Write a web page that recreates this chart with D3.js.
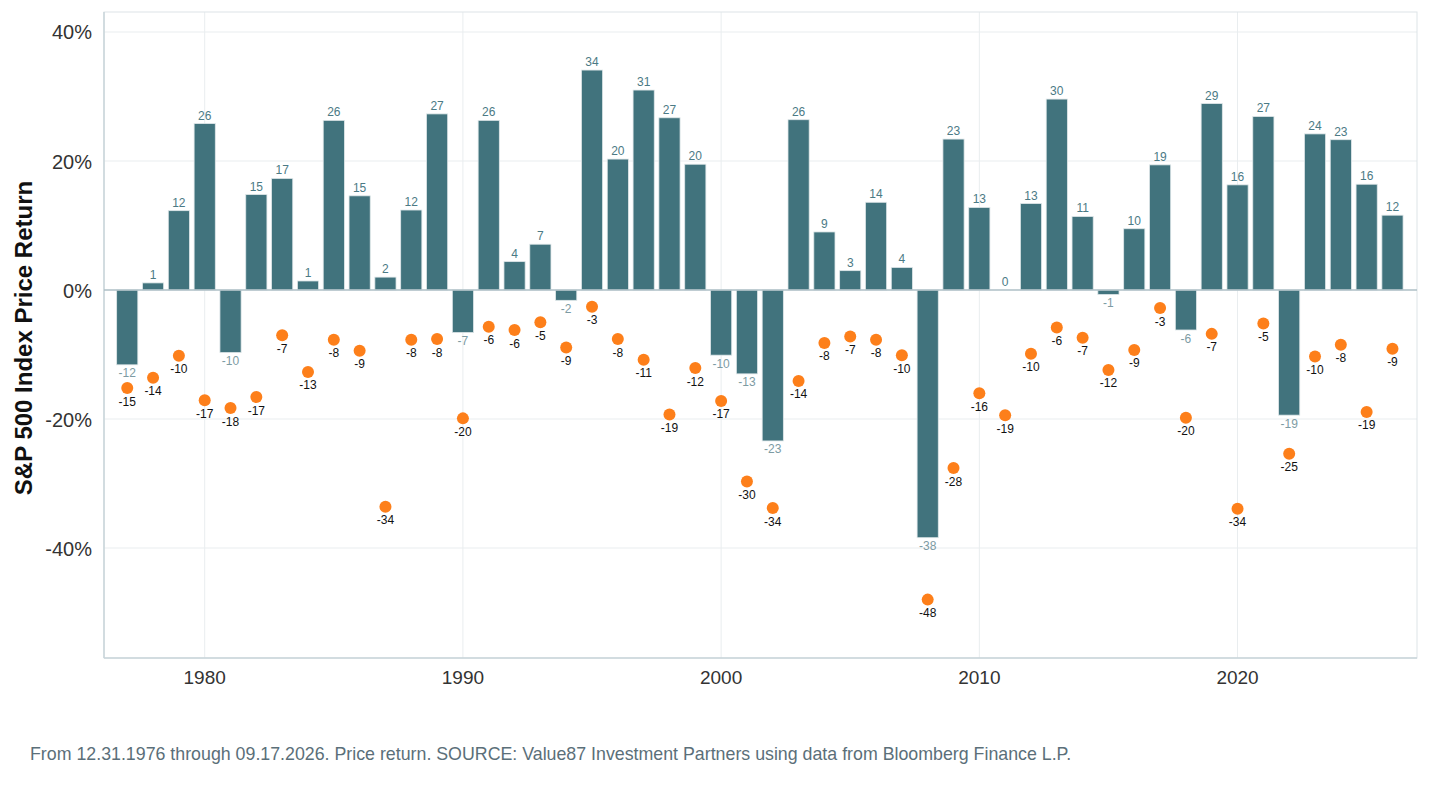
<!DOCTYPE html>
<html>
<head>
<meta charset="utf-8">
<script src="https://cdn.jsdelivr.net/npm/d3@7"></script>
<style>
  body { margin: 0; background: #fff; }
  svg { font-family: "Liberation Sans", Arial, sans-serif; }
</style>
</head>
<body>
<div id="chart"></div>
<script>
// years 1977 -> 2026
const years = d3.range(1977, 2027);

// calendar year price return (%)
const annualReturn = [
  -11.6, 1.1, 12.3, 25.8, -9.7, 14.8, 17.3, 1.4, 26.3, 14.6,
  2.0, 12.4, 27.3, -6.6, 26.3, 4.4, 7.1, -1.6, 34.1, 20.3,
  31.0, 26.7, 19.5, -10.1, -13.0, -23.4, 26.4, 9.0, 3.0, 13.6,
  3.5, -38.4, 23.4, 12.8, 0.0, 13.4, 29.6, 11.4, -0.7, 9.5,
  19.4, -6.2, 28.9, 16.3, 26.9, -19.4, 24.2, 23.3, 16.4, 11.6
];

// intra-year decline (%)
const intraYearDrop = [
  -15.2, -13.6, -10.2, -17.1, -18.3, -16.6, -7.0, -12.7, -7.7, -9.4,
  -33.6, -7.7, -7.6, -19.9, -5.7, -6.2, -5.0, -8.9, -2.6, -7.6,
  -10.8, -19.3, -12.1, -17.2, -29.7, -33.8, -14.1, -8.2, -7.2, -7.7,
  -10.1, -48.0, -27.6, -16.0, -19.4, -9.9, -5.8, -7.4, -12.4, -9.3,
  -2.8, -19.8, -6.8, -33.9, -5.2, -25.4, -10.3, -8.5, -18.9, -9.1
];

const yTicks = [-40, -20, 0, 20, 40];
const xTicks = [1980, 1990, 2000, 2010, 2020];

const yTitle = "S&P 500 Index Price Return";
const footnote = "From 12.31.1976 through 09.17.2026. Price return. SOURCE: Value87 Investment Partners using data from Bloomberg Finance L.P.";

const data = years.map((y, i) => ({ year: y, ret: annualReturn[i], drop: intraYearDrop[i] }));

const width = 1430, height = 804;
const mLeft = 104, mRight = 1417, mTop = 12, mBottom = 658;

const x = d3.scaleLinear().domain([1976.1, 2026.95]).range([mLeft, mRight]);
const y = d3.scaleLinear().domain([-57.05, 43.1]).range([mBottom, mTop]);

const svg = d3.select("#chart").append("svg")
  .attr("width", width)
  .attr("height", height);

// grille
svg.append("g")
  .selectAll("line")
  .data(yTicks.filter(d => d !== 0))
  .join("line")
  .attr("x1", mLeft).attr("x2", mRight)
  .attr("y1", d => y(d)).attr("y2", d => y(d))
  .attr("stroke", "#e9edef").attr("stroke-width", 1);

svg.append("g")
  .selectAll("line")
  .data(xTicks)
  .join("line")
  .attr("x1", d => x(d)).attr("x2", d => x(d))
  .attr("y1", mTop).attr("y2", mBottom)
  .attr("stroke", "#e9edef").attr("stroke-width", 1);

// cadre
svg.append("rect")
  .attr("x", mLeft).attr("y", mTop)
  .attr("width", mRight - mLeft).attr("height", mBottom - mTop)
  .attr("fill", "none")
  .attr("stroke", "#dde4e7").attr("stroke-width", 1);

// axes gauche / bas
svg.append("line")
  .attr("x1", mLeft).attr("x2", mLeft).attr("y1", mTop).attr("y2", mBottom)
  .attr("stroke", "#c9d5da").attr("stroke-width", 1.5);
svg.append("line")
  .attr("x1", mLeft).attr("x2", mRight).attr("y1", mBottom).attr("y2", mBottom)
  .attr("stroke", "#c9d5da").attr("stroke-width", 1.5);

// barres
const bw = 0.41;
svg.append("g")
  .selectAll("rect")
  .data(data)
  .join("rect")
  .attr("x", d => x(d.year - bw))
  .attr("width", d => x(d.year + bw) - x(d.year - bw))
  .attr("y", d => y(Math.max(0, d.ret)))
  .attr("height", d => Math.abs(y(d.ret) - y(0)))
  .attr("fill", "#41737d")
  .attr("stroke", "#dfe7e9")
  .attr("stroke-width", 0.8);

// ligne du zéro
svg.append("line")
  .attr("x1", mLeft).attr("x2", mRight)
  .attr("y1", y(0)).attr("y2", y(0))
  .attr("stroke", "#aebfc6").attr("stroke-width", 1.5);

// étiquettes des barres
svg.append("g")
  .selectAll("text")
  .data(data)
  .join("text")
  .attr("x", d => x(d.year))
  .attr("y", d => d.ret >= 0 ? y(d.ret) - 4 : y(d.ret) + 12.5)
  .attr("text-anchor", "middle")
  .attr("font-size", 12)
  .attr("fill", d => d.ret >= 0 ? "#4b7a85" : "#7d9ba3")
  .text(d => Math.round(d.ret));

// points
svg.append("g")
  .selectAll("circle")
  .data(data)
  .join("circle")
  .attr("cx", d => x(d.year))
  .attr("cy", d => y(d.drop))
  .attr("r", 6)
  .attr("fill", "#fd7f1a");

svg.append("g")
  .selectAll("text")
  .data(data)
  .join("text")
  .attr("x", d => x(d.year))
  .attr("y", d => y(d.drop) + 17.5)
  .attr("text-anchor", "middle")
  .attr("font-size", 12)
  .attr("fill", "#111")
  .text(d => Math.round(d.drop));

// ticks
svg.append("g")
  .selectAll("text")
  .data(yTicks)
  .join("text")
  .attr("x", 92)
  .attr("y", d => y(d) + 7.5)
  .attr("text-anchor", "end")
  .attr("font-size", 20)
  .attr("fill", "#333")
  .text(d => d + "%");

svg.append("g")
  .selectAll("text")
  .data(xTicks)
  .join("text")
  .attr("x", d => x(d))
  .attr("y", 684)
  .attr("text-anchor", "middle")
  .attr("font-size", 19)
  .attr("fill", "#333")
  .text(d => d);

// titre axe y
svg.append("text")
  .attr("transform", "translate(32,338) rotate(-90)")
  .attr("text-anchor", "middle")
  .attr("font-size", 24)
  .attr("font-weight", "bold")
  .attr("fill", "#111")
  .text(yTitle);

// source
svg.append("text")
  .attr("x", 30)
  .attr("y", 760)
  .attr("font-size", 17.8)
  .attr("fill", "#5b6f79")
  .text(footnote);
</script>
</body>
</html>
